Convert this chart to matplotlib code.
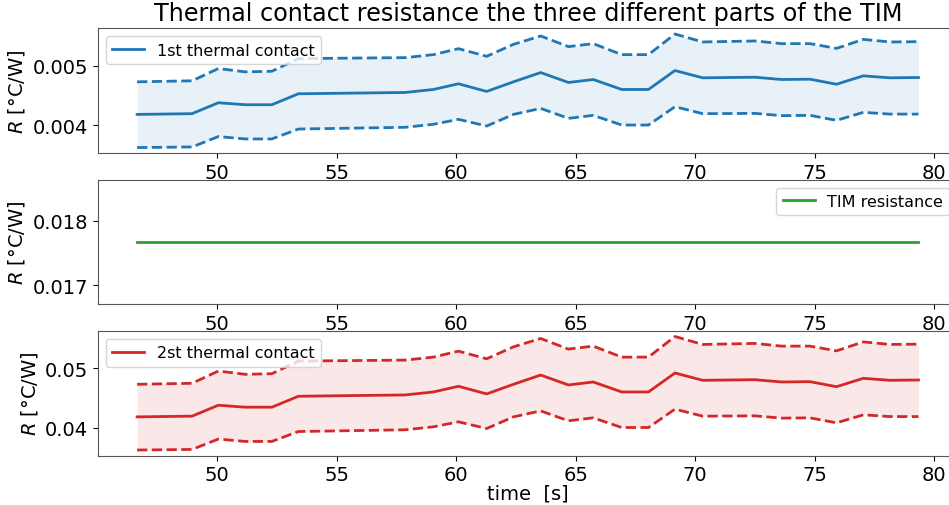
import matplotlib
matplotlib.use("Agg")
import matplotlib.pyplot as plt

# time stamps of the measurements [s]
time = [46.65, 48.95, 50.05, 51.17, 52.29, 53.40, 57.87, 59.05, 60.10, 61.28,
        62.40, 63.54, 64.70, 65.74, 66.93, 68.05, 69.16, 70.32, 72.51, 73.62,
        74.81, 75.92, 77.04, 78.16, 79.35]

# first thermal contact: mean and bounds [°C/W]
r1_mean = [0.004183, 0.004195, 0.004378, 0.004345, 0.004345, 0.004528, 0.004550,
           0.004600, 0.004695, 0.004567, 0.004728, 0.004883, 0.004717, 0.004767,
           0.004600, 0.004600, 0.004917, 0.004795, 0.004805, 0.004767, 0.004772,
           0.004688, 0.004828, 0.004795, 0.004800]
r1_upper = [0.004728, 0.004745, 0.004950, 0.004895, 0.004905, 0.005117, 0.005133,
            0.005183, 0.005283, 0.005155, 0.005355, 0.005495, 0.005317, 0.005367,
            0.005183, 0.005183, 0.005528, 0.005395, 0.005412, 0.005367, 0.005367,
            0.005288, 0.005438, 0.005395, 0.005400]
r1_lower = [0.003628, 0.003638, 0.003812, 0.003772, 0.003772, 0.003938, 0.003967,
            0.004017, 0.004100, 0.003988, 0.004183, 0.004283, 0.004117, 0.004167,
            0.004005, 0.004005, 0.004312, 0.004195, 0.004200, 0.004162, 0.004167,
            0.004083, 0.004217, 0.004188, 0.004188]

# TIM resistance (constant) [°C/W]
r_tim = 0.01767

# second thermal contact: mean and bounds [°C/W]
r2_mean = [0.04183, 0.04195, 0.04378, 0.04345, 0.04345, 0.04528, 0.04550,
           0.04600, 0.04695, 0.04567, 0.04728, 0.04883, 0.04717, 0.04767,
           0.04600, 0.04600, 0.04917, 0.04795, 0.04805, 0.04767, 0.04772,
           0.04688, 0.04828, 0.04795, 0.04800]
r2_upper = [0.04728, 0.04745, 0.04950, 0.04895, 0.04905, 0.05117, 0.05133,
            0.05183, 0.05283, 0.05155, 0.05355, 0.05495, 0.05317, 0.05367,
            0.05183, 0.05183, 0.05528, 0.05395, 0.05412, 0.05367, 0.05367,
            0.05288, 0.05438, 0.05395, 0.05400]
r2_lower = [0.03628, 0.03638, 0.03812, 0.03772, 0.03772, 0.03938, 0.03967,
            0.04017, 0.04100, 0.03988, 0.04183, 0.04283, 0.04117, 0.04167,
            0.04005, 0.04005, 0.04312, 0.04195, 0.04200, 0.04162, 0.04167,
            0.04083, 0.04217, 0.04188, 0.04188]

TICK_FS = 14
LABEL_FS = 14
LEGEND_FS = 11.5

fig, axes = plt.subplots(3, 1, figsize=(9.49, 5.06), dpi=100)
fig.subplots_adjust(left=0.1033, right=1.009, top=0.942, bottom=0.0974, hspace=0.211)


def contact_panel(ax, mean, upper, lower, color, label):
    ax.plot(time, mean, color=color, lw=2, label=label)
    ax.plot(time, upper, color=color, lw=2, ls="--")
    ax.plot(time, lower, color=color, lw=2, ls="--")
    ax.fill_between(time, lower, upper, color=color, alpha=0.1, lw=0)
    ax.legend(loc="upper left", fontsize=LEGEND_FS)


contact_panel(axes[0], r1_mean, r1_upper, r1_lower, "tab:blue", "1st thermal contact")
axes[0].set_title("Thermal contact resistance the three different parts of the TIM", fontsize=17.2)

axes[1].plot(time, [r_tim] * len(time), color="tab:green", lw=2, label="TIM resistance")
axes[1].legend(loc="upper right", fontsize=LEGEND_FS)

contact_panel(axes[2], r2_mean, r2_upper, r2_lower, "tab:red", "2st thermal contact")
axes[2].set_xlabel("time  [s]", fontsize=LABEL_FS, labelpad=-1)

for ax in axes:
    ax.set_ylabel("$R$ [°C/W]", fontsize=LABEL_FS)
    ax.tick_params(labelsize=TICK_FS)
    for s in ax.spines.values():
        s.set_color("#555555")

fig.savefig("out.png", dpi=100)
